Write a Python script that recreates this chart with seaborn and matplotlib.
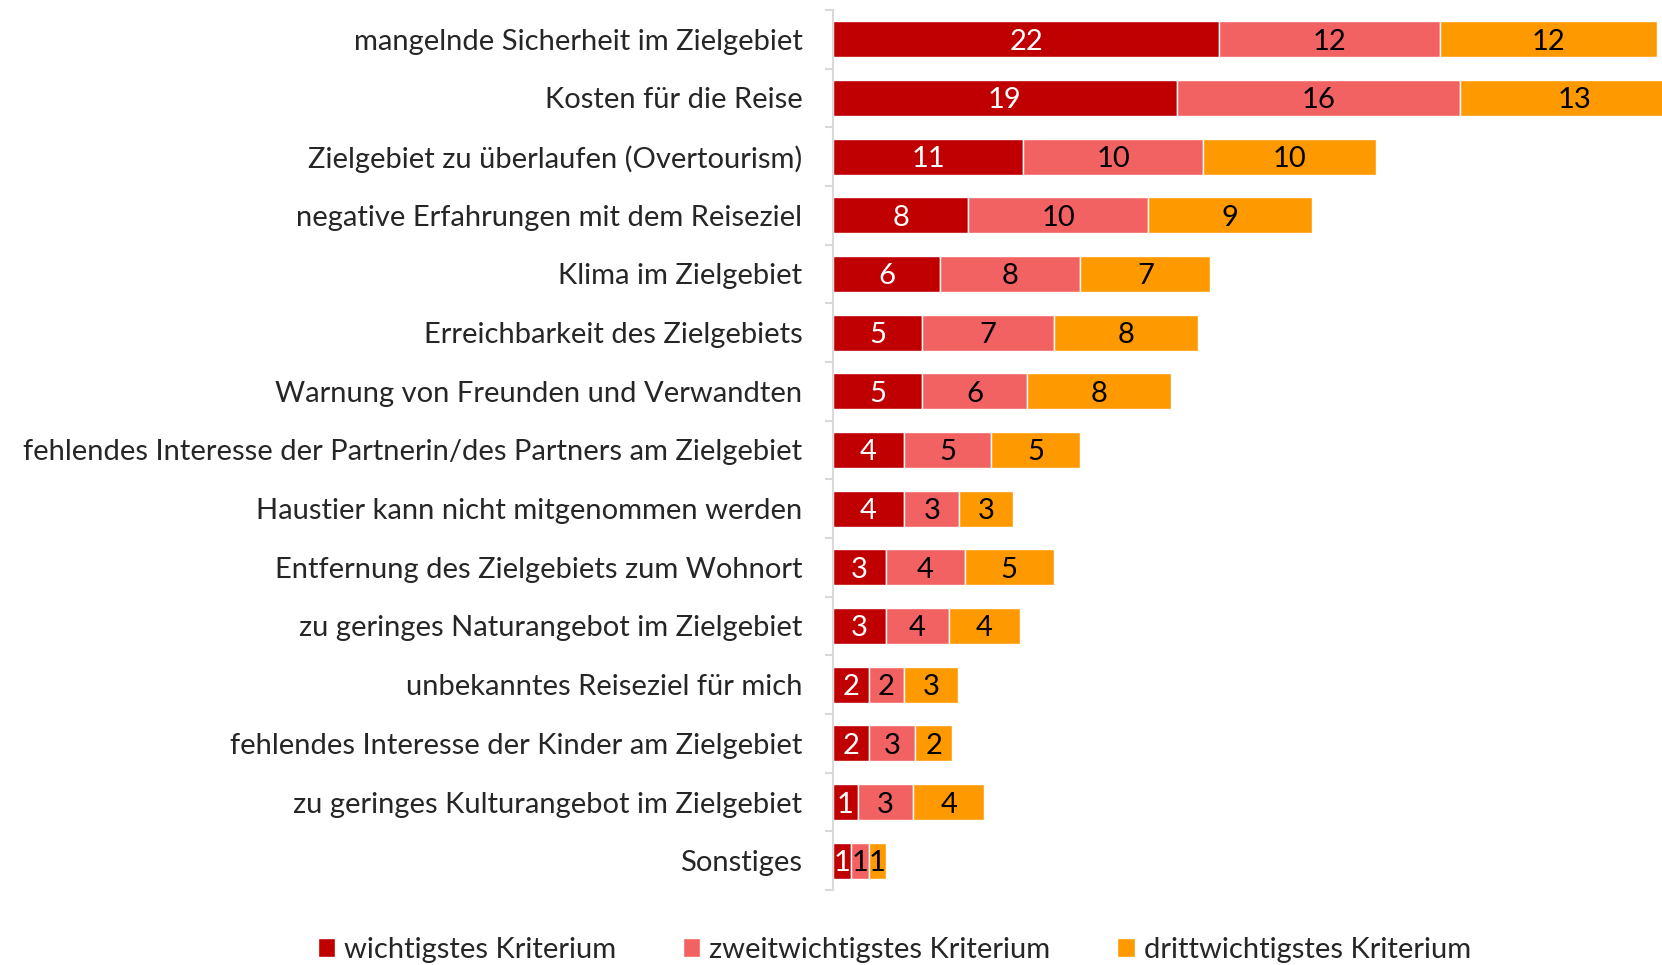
import numpy as np
import pandas as pd
import matplotlib
matplotlib.use("Agg")
import matplotlib.pyplot as plt
import seaborn as sns

# Gründe gegen ein Reiseziel (Anteile in %)
kategorien = [
    "mangelnde Sicherheit im Zielgebiet",
    "Kosten für die Reise",
    "Zielgebiet zu überlaufen (Overtourism)",
    "negative Erfahrungen mit dem Reiseziel",
    "Klima im Zielgebiet",
    "Erreichbarkeit des Zielgebiets",
    "Warnung von Freunden und Verwandten",
    "fehlendes Interesse der Partnerin/des Partners am Zielgebiet",
    "Haustier kann nicht mitgenommen werden",
    "Entfernung des Zielgebiets zum Wohnort",
    "zu geringes Naturangebot im Zielgebiet",
    "unbekanntes Reiseziel für mich",
    "fehlendes Interesse der Kinder am Zielgebiet",
    "zu geringes Kulturangebot im Zielgebiet",
    "Sonstiges",
]
wichtigstes = [21.7, 19.3, 10.7, 7.6, 6.0, 5.0, 5.0, 4.0, 4.0, 3.0, 3.0, 2.0, 2.0, 1.4, 1.0]
zweitwichtigstes = [12.4, 15.9, 10.1, 10.1, 7.9, 7.4, 5.9, 4.9, 3.1, 4.4, 3.5, 2.0, 2.6, 3.1, 1.0]
drittwichtigstes = [12.2, 12.9, 9.7, 9.2, 7.3, 8.1, 8.1, 5.0, 3.0, 5.0, 4.0, 3.0, 2.1, 4.0, 1.0]

serien = ["wichtigstes Kriterium", "zweitwichtigstes Kriterium", "drittwichtigstes Kriterium"]
farben = ["#C00000", "#F26262", "#FF9900"]
textfarben = ["white", "black", "black"]

sns.set_style("white")
plt.rcParams["font.family"] = ["Lato", "DejaVu Sans"]

df = pd.DataFrame({
    "kategorie": kategorien,
    serien[0]: wichtigstes,
    serien[1]: zweitwichtigstes,
    serien[2]: drittwichtigstes,
})

fig = plt.figure(figsize=(16.62, 9.65), dpi=100)
ax = fig.add_axes([0.5012, 0.0777, 0.4988, 0.912])

links = np.zeros(len(df))
for name, farbe, tf in zip(serien, farben, textfarben):
    sns.barplot(data=df, y="kategorie", x=name, color=farbe, orient="h",
                left=links, width=0.61, errorbar=None, label=name,
                saturation=1, ax=ax)
    # Werte mittig in den (auch abgeschnittenen) Segmenten
    for i, v in enumerate(df[name]):
        ax.text(links[i] + v / 2, i, f"{v:.0f}", ha="center",
                va="center_baseline", color=tf, fontsize=21)
    links = links + df[name].to_numpy()

if ax.get_legend() is not None:
    ax.get_legend().remove()

ax.set_xlim(0, 46.57)
ax.set_ylim(len(df) - 0.5, -0.5)
ax.set_xlabel("")
ax.set_ylabel("")
ax.set_xticks([])
ax.tick_params(axis="y", which="major", left=False, length=0, pad=22, labelsize=21)
ax.set_yticks(np.arange(-0.5, len(df)), minor=True)
ax.tick_params(axis="y", which="minor", left=True, length=6, width=1.5,
               color="#D9D9D9", direction="out")
for s in ["top", "right", "bottom"]:
    ax.spines[s].set_visible(False)
ax.spines["left"].set_color("#D9D9D9")
ax.spines["left"].set_linewidth(1.5)

handles, labels = ax.get_legend_handles_labels()
fig.legend(handles, labels, loc="center", bbox_to_anchor=(0.538, 0.016),
           ncol=3, frameon=False, fontsize=21, handlelength=0.6,
           handleheight=0.6, handletextpad=0.3, columnspacing=2.3)

fig.savefig("out.png", dpi=100)
